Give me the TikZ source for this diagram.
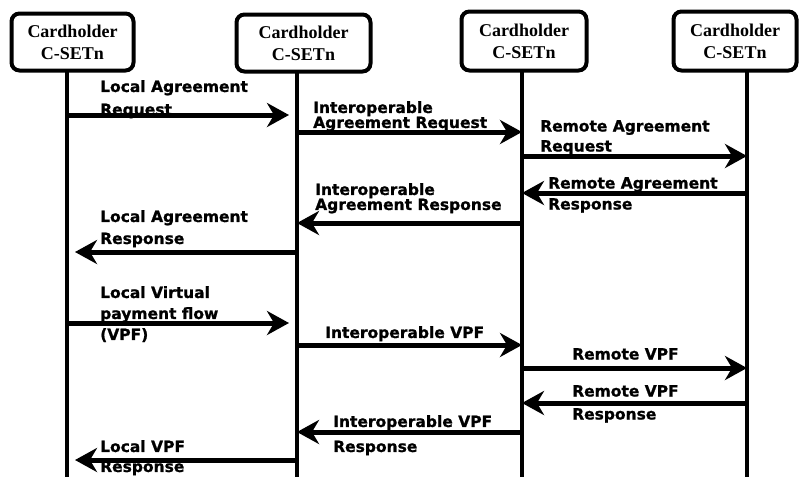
\documentclass[tikz,border=0pt]{standalone}
\usepackage{fontspec}
\newfontfamily\lblfont{DejaVu Sans}[BoldFeatures={FakeBold=1}]
\newfontfamily\boxfont{Liberation Serif}
\usetikzlibrary{arrows.meta}

\begin{document}
\begin{tikzpicture}[x=1pt,y=-1pt]

    \tikzset{
      party/.style={
        draw,
        line width=4pt,
        rounded corners=8pt,
        align=center,
        inner sep=0pt,
        font=\boxfont\bfseries\fontsize{18}{22}\selectfont,
      },
      life/.style={line width=3.5pt},
      msg/.style={
        line width=5pt,
        -{Stealth[length=22pt,width=24pt,inset=7pt]},
      },
      msglabel/.style={
        anchor=north west,
        align=left,
        inner sep=0pt,
        font=\lblfont\bfseries\fontsize{15.5}{19}\selectfont,
      },
    }
    \useasboundingbox (0,0) rectangle (800,477);
    \clip (0,0) rectangle (800,477);
	\draw [color={black}] (72.5,42) node[party,minimum width=122pt,minimum height=57pt] (b1) {Cardholder\\C-SETn};
	\draw [color={black}] (303.5,43) node[party,minimum width=134pt,minimum height=57pt] (b2) {Cardholder\\C-SETn};
	\draw [color={black}] (524,41) node[party,minimum width=125pt,minimum height=59pt] (b3) {Cardholder\\C-SETn};
	\draw [color={black}] (735,41) node[party,minimum width=123pt,minimum height=59pt] (b4) {Cardholder\\C-SETn};
	\coordinate (t1) at (67,72);
	\coordinate (t2) at (297,73);
	\coordinate (t3) at (522,72);
	\coordinate (t4) at (747,72);
	\foreach \i in {1,...,4}
	  \draw[life] (t\i) -- (t\i |- 0,477);

	\foreach \f/\t/\y/\s in {1/2/115/8, 2/3/132/0, 3/4/156/0, 4/3/193/0, 3/2/223/0, 2/1/252/8,
	                         1/2/323/8, 2/3/345/0, 3/4/368/0, 4/3/403/0, 3/2/432/0, 2/1/460/8}
	  \draw[msg,shorten >=\s pt] (t\f |- 0,\y) -- (t\t |- 0,\y);

	\draw [color={black}] (100,80) node[msglabel] (m1) {Local Agreement\\[4pt]Request};
	\draw [color={black}] (313,101) node[msglabel] (m2) {Interoperable\\[-4pt]Agreement Request};
	\draw [color={black}] (540,120) node[msglabel] (m3) {Remote Agreement\\[1pt]Request};
	\draw [color={black}] (548,177) node[msglabel] (m4) {Remote Agreement\\[2pt]Response};
	\draw [color={black}] (315,183) node[msglabel] (m5) {Interoperable\\[-4pt]Agreement Response};
	\draw [color={black}] (100,210) node[msglabel] (m6) {Local Agreement\\[3pt]Response};
	\draw [color={black}] (100,286) node[msglabel] (m7) {Local Virtual\\[2pt]payment flow\\[2pt](VPF)};
	\draw [color={black}] (325,326) node[msglabel] (m8) {Interoperable VPF};
	\draw [color={black}] (572,348) node[msglabel] (m9) {Remote VPF};
	\draw [color={black}] (572,385) node[msglabel] (m10) {Remote VPF\\[4pt]Response};
	\draw [color={black}] (333,415) node[msglabel] (m11) {Interoperable VPF\\[6pt]Response};
	\draw [color={black}] (100,440) node[msglabel] (m12) {Local VPF\\[1pt]Response};

\end{tikzpicture}
\end{document}
